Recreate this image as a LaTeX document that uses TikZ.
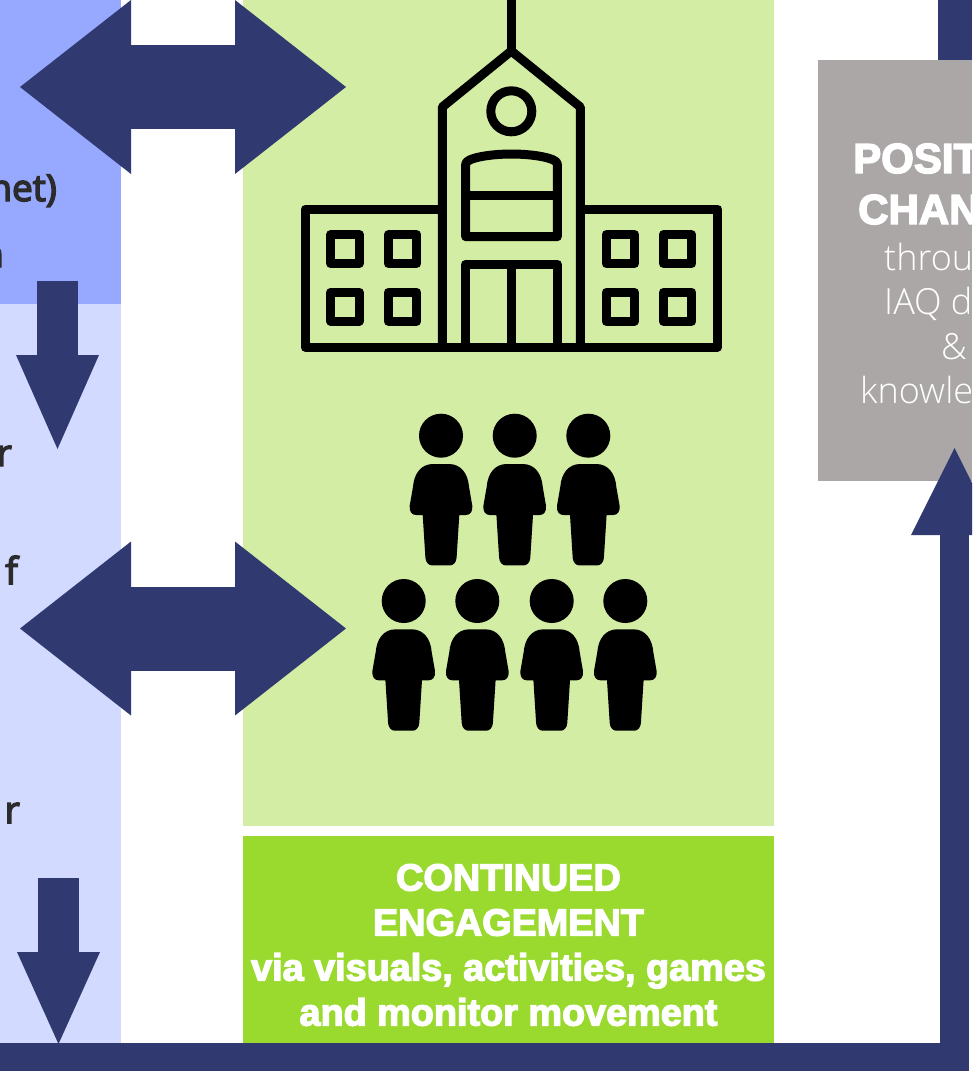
\documentclass[tikz,border=0pt]{standalone}
\usepackage{fontspec}
\usetikzlibrary{arrows.meta,positioning}
\newfontfamily\heavyfont[FakeBold=3.5]{Liberation Sans Bold}
\newfontfamily\labelfont[FakeBold=4]{Open Sans}
\newfontfamily\lightfont{Open Sans Light}
\definecolor{navy}{HTML}{303A70}
\definecolor{bluetop}{HTML}{96A9FF}
\definecolor{bluelow}{HTML}{D2DBFF}
\definecolor{greenpale}{HTML}{D3EDA4}
\definecolor{greenlive}{HTML}{9ADA2F}
\definecolor{greybox}{HTML}{ABA7A6}
\definecolor{textgrey}{HTML}{2B2B2B}
\tikzstyle{panel} = [rectangle, inner sep=0pt, outer sep=0pt]
\tikzstyle{bothways} = [draw=navy, line width=84pt, {Triangle[width=174pt,length=111pt,line width=0pt]}-{Triangle[width=174pt,length=111pt,line width=0pt]}]
\tikzstyle{downward} = [draw=navy, line width=41pt, -{Triangle[width=83pt,length=94pt,line width=0pt]}]
\tikzstyle{feedback} = [draw=navy, line width=29pt, miter limit=10, -{Triangle[width=87pt,length=87pt,line width=0pt]}]
\tikzstyle{outline} = [draw=black, line width=9pt, line join=round]
\tikzstyle{cuttext} = [inner sep=0pt, anchor=base east, text=textgrey, font=\labelfont\fontsize{37}{40}\selectfont]
\tikzstyle{whitetext} = [inner sep=0pt, anchor=base west, text=white]
\tikzstyle{heavytext} = [whitetext, font=\heavyfont\fontsize{42}{40}\selectfont]
\tikzstyle{lighttext} = [whitetext, font=\lightfont\fontsize{36}{40}\selectfont]
\tikzset{
  person/.pic={
    \fill (0,0) circle (22);
    \fill (-8,28.3) .. controls (-20,28.3) and (-27,38) .. (-28,51) -- (-31.3,70)
      .. controls (-32,76) and (-29,79.3) .. (-25,79.3) -- (-18.3,79.3) -- (-15.6,122)
      .. controls (-15.3,127) and (-12,129.7) .. (-9,129.7) -- (9,129.7)
      .. controls (12,129.7) and (15.3,127) .. (15.6,122) -- (18.3,79.3) -- (25,79.3)
      .. controls (29,79.3) and (32,76) .. (31.3,70) -- (28,51)
      .. controls (27,38) and (20,28.3) .. (8,28.3) -- cycle;
  },
  pane/.pic={
    \draw[outline] (0,0) rectangle (28.6,28.8);
  }
}

\begin{document}
\begin{tikzpicture}[x=1pt, y=-1pt]
    \clip (0,0) rectangle (972,1071);
    \fill[white] (0,0) rectangle (972,1071);

    % Place panels
    \node [panel, fill=bluetop, minimum width=121pt, minimum height=304pt] (plan) at (60.5,152) {};
    \node [panel, fill=bluelow, minimum width=121pt, minimum height=739pt, below = 0pt of plan] (measure) {};
    \node [panel, fill=greenpale, minimum width=531pt, minimum height=826pt] (school) at (508.5,413) {};
    \node [panel, fill=greenlive, minimum width=531pt, minimum height=207pt, below = 10pt of school] (engage) {};
    \node [panel, align=center, text=white, font=\heavyfont\fontsize{37.8}{45}\selectfont] (engagetext) at (508.5,945) {CONTINUED\\ENGAGEMENT\\via visuals, activities, games\\and monitor movement};
    \node [panel, fill=greybox, minimum width=154pt, minimum height=421pt] (change) at (895,270.5) {};

    % Cut-off words on the left
    \node [cuttext] (txtnet) at (57,201) {net)};
    \node [cuttext] (txtn) at (4,267) {n};
    \node [cuttext] (txtra) at (12,466) {r};
    \node [cuttext] (txtf) at (18,584) {f};
    \node [cuttext] (txtrb) at (20,823) {r};

    % Cut-off words on the right
    \node [heavytext] (txtpos) at (853,173) {POSIT};
    \node [heavytext] (txtcha) at (858,224) {CHAN};
    \node [lighttext] (txtthr) at (884,270) {throu};
    \node [lighttext] (txtiaq) at (884,314) {IAQ d};
    \node [lighttext] (txtand) at (941,359) {\&};
    \node [lighttext] (txtkno) at (860,403) {knowle};

    % Connectors
    \coordinate (leftup) at (20,87);
    \coordinate (rightup) at (346,87);
    \coordinate (leftlow) at (20,628.5);
    \coordinate (rightlow) at (346,628.5);
    \draw [bothways] (leftup) -- (rightup);
    \draw [bothways] (leftlow) -- (rightlow);
    \coordinate (downtop) at (57.5,281);
    \coordinate (downtip) at (57.5,449);
    \coordinate (lowtop) at (58.5,878);
    \coordinate (lowtip) at (58.5,1044);
    \draw [downward] (downtop) -- (downtip);
    \draw [downward, -{Triangle[width=83pt,length=92pt,line width=0pt]}] (lowtop) -- (lowtip);
    \coordinate (barstart) at (0,1057.5);
    \coordinate (barcorner) at (954.5,1057.5);
    \coordinate (bartip) at (954.5,448);
    \draw [feedback] (barstart) -- (barcorner) -- (bartip);
    \coordinate (topin) at (955,0);
    \draw [draw=navy, line width=34pt] (topin) -- (change.north -| topin);

    % Building
    \draw [outline] (442.3,209) -- (305,209) -- (305,347) -- (717.7,347) -- (717.7,209) -- (580.3,209);
    \draw [outline] (442.3,347) -- (442.3,107) -- (511.3,51) -- (580.3,107) -- (580.3,347);
    \draw [outline] (511.3,0) -- (511.3,51);
    \draw [outline] (511.3,111.3) circle (20.5);
    \draw [outline] (465.7,236.7) -- (465.7,164) .. controls (465.7,158) and (490,154) .. (511.5,154)
        .. controls (533,154) and (557.3,158) .. (557.3,164) -- (557.3,236.7) -- cycle;
    \draw [outline] (465.7,195.7) -- (557.3,195.7);
    \draw [outline] (465.7,347) -- (465.7,264.3) -- (557.3,264.3) -- (557.3,347);
    \draw [outline] (511.5,264.3) -- (511.5,347);
    \pic at (330.7,234.7) {pane};
    \pic at (388.3,234.7) {pane};
    \pic at (330.7,292.3) {pane};
    \pic at (388.3,292.3) {pane};
    \pic at (606,234.7) {pane};
    \pic at (663.3,234.7) {pane};
    \pic at (606,292.3) {pane};
    \pic at (663.3,292.3) {pane};

    % People
    \pic at (441,435.7) {person};
    \pic at (514.7,435.7) {person};
    \pic at (588.3,435.7) {person};
    \pic at (403.7,601) {person};
    \pic at (477.3,601) {person};
    \pic at (551.7,601) {person};
    \pic at (625.3,601) {person};
\end{tikzpicture}
\end{document}
